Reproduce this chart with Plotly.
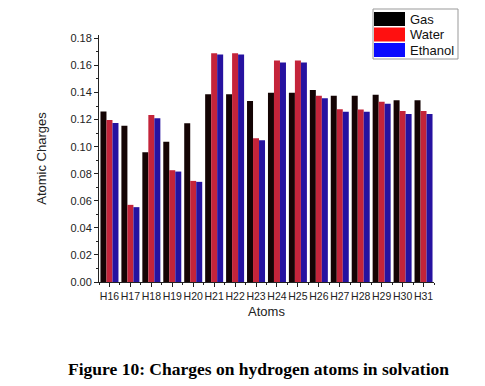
import plotly.graph_objects as go

atoms = ["H16", "H17", "H18", "H19", "H20", "H21", "H22", "H23",
         "H24", "H25", "H26", "H27", "H28", "H29", "H30", "H31"]
gas = [0.126, 0.1155, 0.0958, 0.1037, 0.1173, 0.1387, 0.1387, 0.1337,
       0.1399, 0.1399, 0.1419, 0.1376, 0.1376, 0.1384, 0.1342, 0.1342]
water = [0.1197, 0.057, 0.1234, 0.0826, 0.0747, 0.169, 0.169, 0.1062,
         0.1636, 0.1636, 0.1376, 0.1276, 0.1274, 0.1332, 0.1263, 0.1263]
ethanol = [0.1175, 0.0553, 0.121, 0.0816, 0.074, 0.168, 0.168, 0.1047,
           0.1622, 0.1622, 0.1357, 0.1258, 0.1258, 0.1317, 0.1241, 0.1241]
y_ticks = [0.00, 0.02, 0.04, 0.06, 0.08, 0.10, 0.12, 0.14, 0.16, 0.18]
series_names = ["Gas", "Water", "Ethanol"]
bar_colors = ["#140404", "#c4243a", "#2612a0"]
legend_colors = ["#000000", "#ff1010", "#0a0aff"]

W, H = 485, 386
ML, MR, MT, MB = 99, 51, 35, 104
PW, PH = W - ML - MR, H - MT - MB


def px(x):
    return (x - ML) / PW


def py(y):
    return (H - MB - y) / PH


xi = list(range(len(atoms)))
fig = go.Figure()
for name, vals, col in zip(series_names, [gas, water, ethanol], bar_colors):
    fig.add_trace(go.Bar(x=xi, y=vals, name=name, showlegend=False,
                         hoverinfo="skip",
                         marker=dict(color=col, line=dict(width=0))))

# manual legend box
shapes = [dict(type="rect", xref="paper", yref="paper",
               x0=px(373), x1=px(458), y0=py(59), y1=py(9),
               line=dict(color="#999", width=1), fillcolor="white")]
row_tops = [12, 27.5, 43]
for i, (name, col) in enumerate(zip(series_names, legend_colors)):
    t = row_tops[i]
    shapes.append(dict(type="rect", xref="paper", yref="paper",
                       x0=px(374), x1=px(405), y0=py(t + 14), y1=py(t),
                       line=dict(width=0), fillcolor=col))
    fig.add_annotation(text=name, xref="paper", yref="paper",
                       x=px(408), y=py(t + 7), xanchor="left", yanchor="middle",
                       showarrow=False,
                       font=dict(size=13, color="#111",
                                 family="Liberation Sans, Arial, sans-serif"))

fig.update_layout(
    width=W, height=H,
    margin=dict(l=ML, r=MR, t=MT, b=MB, autoexpand=False),
    paper_bgcolor="white", plot_bgcolor="white",
    barmode="group", bargap=0.14, bargroupgap=0,
    font=dict(family="Liberation Sans, Arial, sans-serif", size=11, color="#222"),
    showlegend=False,
    shapes=shapes,
    xaxis=dict(range=[-0.5, 15.5], tickmode="array", tickvals=xi, ticktext=atoms,
               tickangle=0, tickfont=dict(size=10.5),
               ticks="outside", ticklen=4, tickcolor="#222", showline=True,
               linecolor="#222", linewidth=1, showgrid=False, zeroline=False,
               minor=dict(tick0=0.5, dtick=1, ticks="outside", ticklen=2, tickcolor="#222"),
               title=dict(text="Atoms", font=dict(size=13), standoff=6)),
    yaxis=dict(range=[0, 0.1825], tickmode="array", tickvals=y_ticks,
               tickformat=".2f", ticks="outside", ticklen=4, tickcolor="#222",
               showline=True, linecolor="#222", linewidth=1, showgrid=False,
               zeroline=False,
               minor=dict(dtick=0.01, ticks="outside", ticklen=2, tickcolor="#222"),
               title=dict(text="Atomic Charges", font=dict(size=13), standoff=20)),
)
fig.add_annotation(text="<b>Figure 10: Charges on hydrogen atoms in solvation</b>",
                   xref="paper", yref="paper", x=px(258), y=py(369),
                   xanchor="center", yanchor="middle", showarrow=False,
                   font=dict(family="Liberation Serif, Times New Roman, serif",
                             size=17.5, color="black"))
fig.write_html("out.html", config={"displayModeBar": False},
               post_script="document.body.style.margin='0';")
